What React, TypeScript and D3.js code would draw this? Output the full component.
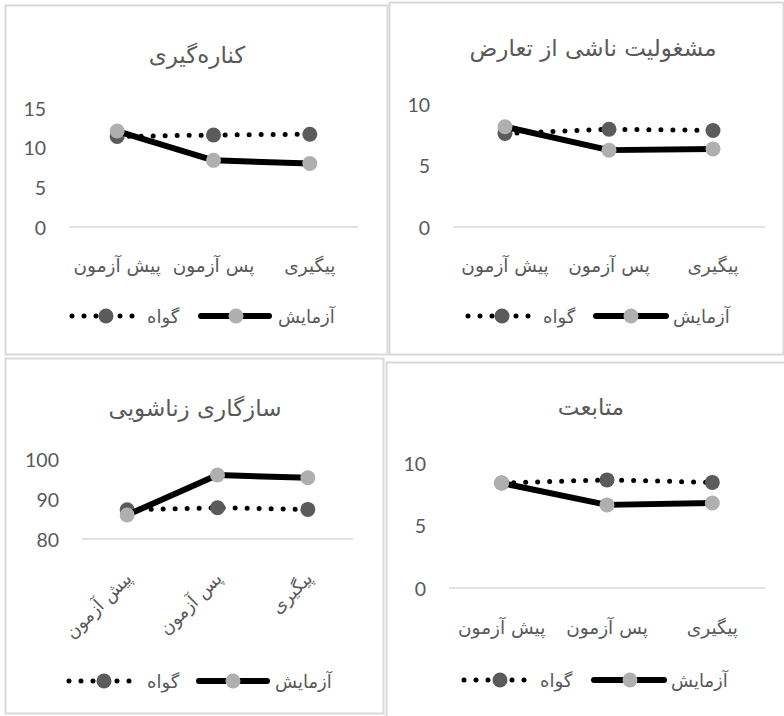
import React from "react";
import * as d3 from "d3";

const categories = ["پیش آزمون", "پس آزمون", "پیگیری"];
const seriesNames = ["گواه", "آزمایش"];
const titles = ["کناره‌گیری", "مشغولیت ناشی از تعارض", "سازگاری زناشویی", "متابعت"];

const withdrawalControl = [11.4, 11.6, 11.7];
const withdrawalExperiment = [12.1, 8.4, 8.0];
const conflictControl = [7.6, 7.95, 7.85];
const conflictExperiment = [8.15, 6.25, 6.35];
const maritalControl = [87.3, 87.8, 87.4];
const maritalExperiment = [86.0, 96.0, 95.3];
const complianceControl = [8.4, 8.65, 8.45];
const complianceExperiment = [8.4, 6.65, 6.8];

const ticksWithdrawal = [0, 5, 10, 15];
const ticksConflict = [0, 5, 10];
const ticksMarital = [80, 90, 100];
const ticksCompliance = [0, 5, 10];

const TEXT = "#595959";
const BORDER = "#d9d9d9";
const DARK = "#5b5b5b";
const LIGHT = "#afafaf";
const FA = "'DejaVu Sans', sans-serif";
const NUM = "Lato, 'DejaVu Sans', sans-serif";

type Layout = {
  box: [number, number, number, number];
  px: [number, number];
  py: [number, number];
  title: [number, number];
  catY: number;
  rotate: boolean;
  legY: number;
  leg: [number, number, number, number, number, number, number, number];
};

const panels: {
  title: string;
  control: number[];
  experiment: number[];
  ticks: number[];
  layout: Layout;
}[] = [
  {
    title: titles[0], control: withdrawalControl, experiment: withdrawalExperiment, ticks: ticksWithdrawal,
    layout: { box: [5, 5, 382, 349], px: [69, 358], py: [227, 108], title: [197, 55], catY: 265, rotate: false, legY: 316, leg: [72, 106, 136, 147, 201, 236, 269, 278] },
  },
  {
    title: titles[1], control: conflictControl, experiment: conflictExperiment, ticks: ticksConflict,
    layout: { box: [389, 2, 394, 352], px: [453, 765], py: [227, 104], title: [593, 48], catY: 265, rotate: false, legY: 316, leg: [468, 502, 532, 543, 596, 631, 666, 673] },
  },
  {
    title: titles[2], control: maritalControl, experiment: maritalExperiment, ticks: ticksMarital,
    layout: { box: [5, 358, 378, 355], px: [82, 353], py: [539, 459], title: [195, 408], catY: 574, rotate: true, legY: 681, leg: [69, 104, 134, 147, 199, 233, 267, 275] },
  },
  {
    title: titles[3], control: complianceControl, experiment: complianceExperiment, ticks: ticksCompliance,
    layout: { box: [386, 362, 400, 360], px: [449, 765], py: [588, 463], title: [591, 407], catY: 627, rotate: false, legY: 680, leg: [464, 500, 530, 540, 594, 630, 664, 671] },
  },
];

function Panel({ p }: { p: (typeof panels)[number] }) {
  const L = p.layout;
  const x = d3.scaleBand<string>().domain(categories).range(L.px);
  const cx = (c: string) => (x(c) as number) + x.bandwidth() / 2;
  const y = d3.scaleLinear().domain([p.ticks[0], p.ticks[p.ticks.length - 1]]).range(L.py);
  const line = d3.line<number>().x((_, i) => cx(categories[i])).y((v) => y(v));
  const [bx, by, bw, bh] = L.box;
  const lg = L.leg;
  return (
    <g>
      <rect x={bx + 0.5} y={by + 0.5} width={bw} height={bh} fill="#fff" stroke={BORDER} strokeWidth={2} />
      <text x={L.title[0]} y={L.title[1]} textAnchor="middle" dominantBaseline="central" fill={TEXT} fontFamily={FA} fontSize={23}>
        {p.title}
      </text>
      <line x1={L.px[0]} x2={L.px[1]} y1={y(p.ticks[0])} y2={y(p.ticks[0])} stroke={BORDER} strokeWidth={1.5} />
      {p.ticks.map((t) => (
        <text key={t} x={L.px[0] - 23} y={y(t)} textAnchor="end" dominantBaseline="central" fill={TEXT} fontFamily={NUM} fontSize={19.5}>
          {t}
        </text>
      ))}
      {categories.map((c) =>
        L.rotate ? (
          <text key={c} transform={`translate(${cx(c) + 1},${L.catY + 1}) rotate(-45)`} textAnchor="end" dominantBaseline="central" fill={TEXT} fontFamily={FA} fontSize={18}>
            {c}
          </text>
        ) : (
          <text key={c} x={cx(c)} y={L.catY} textAnchor="middle" dominantBaseline="central" fill={TEXT} fontFamily={FA} fontSize={18.5}>
            {c}
          </text>
        )
      )}
      <path d={line(p.control) as string} fill="none" stroke="#000" strokeWidth={5} strokeDasharray="0 12" strokeLinecap="round" />
      {p.control.map((v, i) => (
        <circle key={"c" + i} cx={cx(categories[i])} cy={y(v)} r={7.5} fill={DARK} />
      ))}
      <path d={line(p.experiment) as string} fill="none" stroke="#000" strokeWidth={6} strokeLinejoin="round" strokeLinecap="round" />
      {p.experiment.map((v, i) => (
        <circle key={"e" + i} cx={cx(categories[i])} cy={y(v)} r={7.5} fill={LIGHT} />
      ))}
      <line x1={lg[0]} x2={lg[2]} y1={L.legY} y2={L.legY} stroke="#000" strokeWidth={5} strokeDasharray="0 12" strokeLinecap="round" />
      <circle cx={lg[1]} cy={L.legY} r={7.5} fill={DARK} />
      <text x={lg[3]} y={L.legY} textAnchor="start" dominantBaseline="central" fill={TEXT} fontFamily={FA} fontSize={18}>
        {seriesNames[0]}
      </text>
      <line x1={lg[4]} x2={lg[6]} y1={L.legY} y2={L.legY} stroke="#000" strokeWidth={6} strokeLinecap="round" />
      <circle cx={lg[5]} cy={L.legY} r={7.5} fill={LIGHT} />
      <text x={lg[7]} y={L.legY} textAnchor="start" dominantBaseline="central" fill={TEXT} fontFamily={FA} fontSize={18}>
        {seriesNames[1]}
      </text>
    </g>
  );
}

export default function App() {
  return (
    <svg width={784} height={716} viewBox="0 0 784 716" style={{ position: "absolute", left: 0, top: 0, background: "#fff" }}>
      <rect x={0} y={0} width={784} height={716} fill="#fff" />
      {panels.map((p, i) => (
        <Panel key={i} p={p} />
      ))}
    </svg>
  );
}
